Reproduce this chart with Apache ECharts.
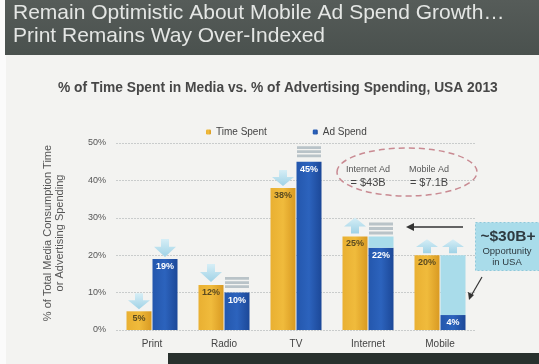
<!DOCTYPE html>
<html>
<head>
<meta charset="utf-8">
<script src="https://cdn.jsdelivr.net/npm/echarts@6/dist/echarts.min.js"></script>
<style>
  html, body { margin: 0; padding: 0; background: #f3f3f1; }
  #chart { width: 539px; height: 364px; }
</style>
</head>
<body>
<div id="chart"></div>
<script>
// Media categories and shares (% of total)
const categories = ['Print', 'Radio', 'TV', 'Internet', 'Mobile'];
const timeSpent = [5, 12, 38, 25, 20];
const adSpend = [19, 10, 45, 22, 4];
// Gap between ad spend and time spent where ad money should follow
const opportunity = [null, null, null, 3, 16];
const yTicks = [0, 10, 20, 30, 40, 50];

const downArrow = 'path://M7,0 L15,0 L15,7 L22,7 L11,16 L0,7 L7,7 Z';
const upArrow = 'path://M11,0 L22,9 L15,9 L15,16 L7,16 L7,9 L0,9 Z';
const billStack = 'path://M0,0 H24 V3 H0 Z M0,4.5 H24 V7.5 H0 Z M0,9 H24 V12 H0 Z';

const arrowStyle = {
  color: new echarts.graphic.LinearGradient(0, 0, 0, 1, [
    { offset: 0, color: '#d6eef6' }, { offset: 1, color: '#9fd2e6' }
  ])
};
const billStyle = { color: '#b9c3c8' };
const font = '"Liberation Sans", Arial, sans-serif';

const chart = echarts.init(document.getElementById('chart'), null, { renderer: 'canvas' });

chart.setOption({
  backgroundColor: '#f3f3f1',
  animation: false,
  textStyle: { fontFamily: font },
  grid: { left: 116, right: 63, top: 143, bottom: 34 },
  legend: {
    top: 122, left: 201, itemGap: 46,
    itemWidth: 5, itemHeight: 5,
    textStyle: { fontSize: 10, color: '#444' },
    data: ['Time Spent', 'Ad Spend']
  },
  xAxis: {
    type: 'category', data: categories,
    axisLine: { show: false }, axisTick: { show: false },
    axisLabel: { fontSize: 10, color: '#444', margin: 9 }
  },
  yAxis: {
    type: 'value', min: yTicks[0], max: yTicks[yTicks.length - 1], interval: 10,
    axisLabel: { fontSize: 9, color: '#555', margin: 10, formatter: '{value}%' },
    splitLine: { lineStyle: { color: '#c9cccc', type: [2, 1] } },
    axisLine: { show: false }, axisTick: { show: false }
  },
  series: [
    {
      name: 'Time Spent', type: 'bar', data: timeSpent,
      barWidth: 25, barGap: '4%',
      itemStyle: {
        color: new echarts.graphic.LinearGradient(0, 0, 1, 0, [
          { offset: 0, color: '#e9b032' }, { offset: 0.5, color: '#f0bb3c' }, { offset: 1, color: '#d99a22' }
        ])
      },
      label: {
        show: true, position: 'insideTop', distance: 3,
        formatter: '{c}%', fontSize: 9, fontWeight: 'bold', color: '#5a4a20'
      },
      markPoint: {
        label: { show: false },
        symbolKeepAspect: false,
        data: [
          { coord: ['Print', 5], symbol: downArrow, symbolSize: [22, 16], symbolOffset: [0, -10], itemStyle: arrowStyle },
          { coord: ['Radio', 12], symbol: downArrow, symbolSize: [22, 18], symbolOffset: [0, -12], itemStyle: arrowStyle },
          { coord: ['TV', 38], symbol: downArrow, symbolSize: [22, 16], symbolOffset: [0, -10], itemStyle: arrowStyle },
          { coord: ['Internet', 25], symbol: upArrow, symbolSize: [22, 16], symbolOffset: [0, -11], itemStyle: arrowStyle },
          { coord: ['Mobile', 20], symbol: upArrow, symbolSize: [22, 14], symbolOffset: [0, -9], itemStyle: arrowStyle }
        ]
      }
    },
    {
      name: 'Ad Spend', type: 'bar', data: adSpend, stack: 'ad',
      barWidth: 25,
      itemStyle: {
        color: new echarts.graphic.LinearGradient(0, 0, 1, 0, [
          { offset: 0, color: '#2457ad' }, { offset: 0.5, color: '#2c63bd' }, { offset: 1, color: '#1c4898' }
        ])
      },
      label: {
        show: true, position: 'insideTop', distance: 3,
        formatter: '{c}%', fontSize: 9, fontWeight: 'bold', color: '#ffffff'
      },
      markPoint: {
        label: { show: false },
        symbolKeepAspect: false,
        data: [
          { coord: ['Print', 19], symbol: downArrow, symbolSize: [22, 18], symbolOffset: [0, -11], itemStyle: arrowStyle },
          { coord: ['Radio', 10], symbol: billStack, symbolSize: [24, 11], symbolOffset: [0, -10], itemStyle: billStyle },
          { coord: ['TV', 45], symbol: billStack, symbolSize: [24, 11], symbolOffset: [0, -10], itemStyle: billStyle }
        ]
      }
    },
    {
      name: 'Opportunity', type: 'bar', data: opportunity, stack: 'ad',
      barWidth: 25,
      itemStyle: { color: '#a9dcea' },
      markPoint: {
        label: { show: false },
        symbolKeepAspect: false,
        data: [
          { coord: ['Internet', 25], symbol: billStack, symbolSize: [24, 12], symbolOffset: [0, -8], itemStyle: billStyle },
          { coord: ['Mobile', 20], symbol: upArrow, symbolSize: [22, 14], symbolOffset: [0, -9], itemStyle: arrowStyle }
        ]
      }
    }
  ],
  graphic: [
    // white margin and heading band of the slide
    { type: 'rect', left: 0, top: 0, shape: { width: 6, height: 364 }, style: { fill: '#fbfbfb' }, z: 0 },
    {
      type: 'rect', left: 5, top: 0, shape: { width: 534, height: 55 },
      style: {
        fill: new echarts.graphic.LinearGradient(0, 0, 0, 1, [
          { offset: 0, color: '#565c59' }, { offset: 1, color: '#4a514e' }
        ])
      }, z: 1
    },
    {
      type: 'text', left: 13, top: 2, z: 2,
      style: {
        text: 'Remain Optimistic About Mobile Ad Spend Growth…\nPrint Remains Way Over-Indexed',
        font: '21px ' + font, fill: '#e4e6e4', lineHeight: 23
      }
    },
    {
      type: 'text', left: 58, top: 81, z: 2,
      style: {
        text: '% of Time Spent in Media vs. % of Advertising Spending, USA 2013',
        font: 'bold 13.8px ' + font, fill: '#474747'
      }
    },
    // y-axis title
    {
      type: 'text', x: 54, y: 233, rotation: Math.PI / 2, z: 2,
      style: {
        text: '% of Total Media Consumption Time\nor Advertising Spending',
        font: '11px ' + font, fill: '#555', align: 'center', verticalAlign: 'middle', lineHeight: 12
      }
    },
    // dashed callout with ad totals
    {
      type: 'ellipse', z: 2,
      shape: { cx: 407, cy: 172, rx: 70, ry: 24 },
      style: { fill: 'none', stroke: '#c98a92', lineWidth: 1.5, lineDash: [6, 4] }
    },
    {
      type: 'text', x: 368, y: 177, z: 2,
      style: {
        text: '{a|Internet Ad}\n{b|= $43B}', align: 'center', verticalAlign: 'middle',
        rich: {
          a: { font: '9px ' + font, fill: '#555', lineHeight: 12 },
          b: { font: '11px ' + font, fill: '#444', lineHeight: 14 }
        }
      }
    },
    {
      type: 'text', x: 429, y: 177, z: 2,
      style: {
        text: '{a|Mobile Ad}\n{b|= $7.1B}', align: 'center', verticalAlign: 'middle',
        rich: {
          a: { font: '9px ' + font, fill: '#555', lineHeight: 12 },
          b: { font: '11px ' + font, fill: '#444', lineHeight: 14 }
        }
      }
    },
    // leftward arrow
    {
      type: 'line', z: 2, shape: { x1: 463, y1: 227, x2: 410, y2: 227 },
      style: { stroke: '#333', lineWidth: 1.5 }
    },
    {
      type: 'polygon', z: 2, shape: { points: [[406, 227], [414, 223], [414, 231]] },
      style: { fill: '#333' }
    },
    // opportunity box
    {
      type: 'rect', z: 2, left: 475, top: 222, shape: { width: 64, height: 48 },
      style: { fill: '#a9dcea', stroke: '#8fc8da', lineWidth: 1, lineDash: [2, 2] }
    },
    {
      type: 'text', x: 508, y: 237, z: 3,
      style: { text: '~$30B+', font: 'bold 15.5px ' + font, fill: '#2e3a40', align: 'center', verticalAlign: 'middle' }
    },
    {
      type: 'text', x: 507, y: 257, z: 3,
      style: { text: 'Opportunity\nin USA', font: '9.5px ' + font, fill: '#2e3a40', align: 'center', verticalAlign: 'middle', lineHeight: 11 }
    },
    {
      type: 'line', z: 2, shape: { x1: 482, y1: 277, x2: 471, y2: 296 },
      style: { stroke: '#333', lineWidth: 1.2 }
    },
    {
      type: 'polygon', z: 2, shape: { points: [[469, 300], [468, 292], [474, 295]] },
      style: { fill: '#333' }
    },
    // next slide edge at bottom
    {
      type: 'rect', z: 2, left: 168, top: 353, shape: { width: 371, height: 11 },
      style: { fill: '#28302d' }
    }
  ]
});
</script>
</body>
</html>
